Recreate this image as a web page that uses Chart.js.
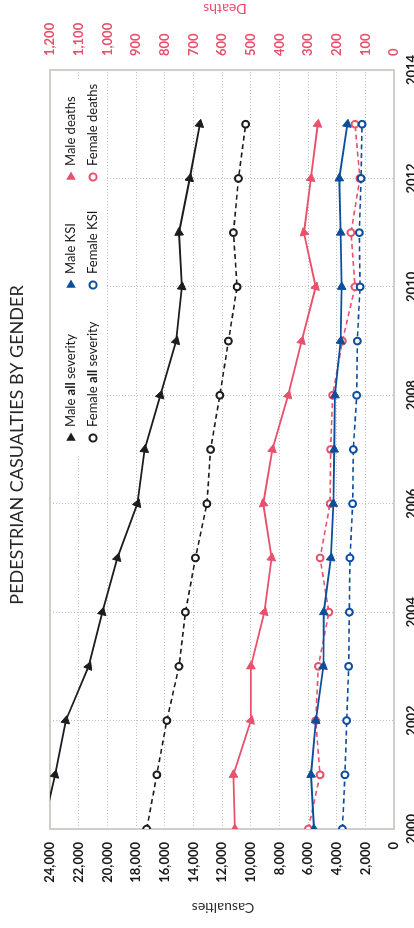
<!DOCTYPE html>
<html><head><meta charset="utf-8">
<script src="https://cdn.jsdelivr.net/npm/chart.js@4"></script>
<style>
html,body{margin:0;padding:0;background:#fff;overflow:hidden;width:414px;height:928px;}
#rot{position:absolute;left:0;top:0;width:928px;height:414px;overflow:hidden;transform-origin:0 0;transform:translate(0,928px) rotate(-90deg);background:#fff;}
</style></head><body>
<div id="rot"><canvas id="c" width="928" height="430"></canvas></div>
<script>
const years = [2000,2001,2002,2003,2004,2005,2006,2007,2008,2009,2010,2011,2012,2013];
const maleAllSeverity   = [24500,23650,22900,21300,20350,19300,17900,17400,16300,15200,14800,15000,14250,13550];
const femaleAllSeverity = [17250,16550,15850,15000,14550,13850,13050,12800,12150,11550,10950,11200,10850,10350];
const maleKSI   = [5580,5790,5450,4930,4900,4400,4230,4170,4120,3720,3650,3720,3820,3260];
const femaleKSI = [3600,3420,3300,3160,3120,3070,2880,2840,2600,2560,2370,2420,2300,2230];
const maleDeaths   = [555,560,499,499,452,427,456,424,369,322,273,314,290,266];
const femaleDeaths = [299,258,273,264,227,258,223,221,214,180,136,150,119,136];
const casualtyTicks = {min:0, max:24000, step:2000};
const deathTicks = {min:0, max:1200, step:100};
const yearTicks = {min:2000, max:2014, step:2};

const BLACK='#1c1c1c', BLUE='#0c4e9c', PINK='#e9506b';
const toXY = arr => arr.map((v,i)=>({x:years[i], y:v}));

function rot(ctx){
  const ch = ctx.chart;
  const ds = ch.data.datasets[ctx.datasetIndex];
  const xs = ch.scales.x, ys = ch.scales[ds.yAxisID];
  if(!xs || !ys || !ds) return 90;
  const d = ds.data, i = ctx.dataIndex;
  const a = i>0 ? i-1 : i, b = i>0 ? i : i+1;
  const dx = xs.getPixelForValue(d[b].x) - xs.getPixelForValue(d[a].x);
  const dy = ys.getPixelForValue(d[b].y) - ys.getPixelForValue(d[a].y);
  return 90 + Math.atan2(dy, dx)*180/Math.PI;
}

function series(label, data, color, axis, male){
  return {
    label, data: toXY(data), yAxisID: axis,
    borderColor: color, backgroundColor: male ? color : '#fff',
    borderWidth: male ? 1.8 : 1.6,
    borderDash: male ? [] : [5,3.5],
    pointStyle: male ? 'triangle' : 'circle',
    pointRadius: male ? 5 : 3.4,
    pointBorderWidth: male ? 1 : 2,
    pointBorderColor: color,
    pointBackgroundColor: male ? color : '#fff',
    pointRotation: male ? rot : 0,
    tension: 0
  };
}

const fmt = v => Number(v).toLocaleString('en-US');

const legendItems = [
  {parts:[['Male ',400],['all',700],[' severity',400]], color:BLACK, male:true, col:0, row:0},
  {parts:[['Female ',400],['all',700],[' severity',400]], color:BLACK, male:false, col:0, row:1},
  {parts:[['Male KSI',400]], color:BLUE, male:true, col:1, row:0},
  {parts:[['Female KSI',400]], color:BLUE, male:false, col:1, row:1},
  {parts:[['Male deaths',400]], color:PINK, male:true, col:2, row:0},
  {parts:[['Female deaths',400]], color:PINK, male:false, col:2, row:1}
];

const deco = {
  id:'deco',
  beforeDatasetsDraw(chart){
    const c = chart.ctx, a = chart.chartArea;
    c.save();
    c.fillStyle = '#fff';
    c.fillRect(473, a.top+1, 848-473, 105-a.top);
    c.strokeStyle = '#d2cdc9';
    c.lineWidth = 2;
    c.strokeRect(a.left, a.top, a.right-a.left, a.bottom-a.top);
    const colX = [490, 643, 751], rowY = [71, 93];
    legendItems.forEach(it=>{
      const x = colX[it.col], y = rowY[it.row];
      c.fillStyle = it.color; c.strokeStyle = it.color;
      if(it.male){
        const r = 5.5;
        c.beginPath();
        c.moveTo(x + r, y);
        c.lineTo(x - r/2, y - r*0.866);
        c.lineTo(x - r/2, y + r*0.866);
        c.closePath(); c.fill();
      } else {
        c.beginPath(); c.lineWidth = 2;
        c.fillStyle = '#fff';
        c.arc(x, y, 3.6, 0, Math.PI*2); c.fill(); c.stroke();
      }
      let tx = x + 11;
      c.textBaseline = 'middle'; c.textAlign = 'left';
      c.fillStyle = '#1a1a1a';
      it.parts.forEach(([t,w])=>{
        c.font = w + ' 13px Lato';
        c.fillText(t, tx, y);
        tx += c.measureText(t).width;
      });
    });
    c.restore();
  },
  afterDraw(chart){
    const c = chart.ctx;
    c.save();
    c.fillStyle = '#262626';
    c.font = '400 18px Lato';
    c.textAlign = 'center'; c.textBaseline = 'middle';
    c.fillText('PEDESTRIAN CASUALTIES BY GENDER', 483, 17);
    c.font = '400 14px Lato';
    c.save(); c.translate(20, 223); c.rotate(-Math.PI/2);
    c.fillStyle = '#2a2a2a'; c.fillText('Casualties', 0, 0); c.restore();
    c.save(); c.translate(919, 225); c.rotate(-Math.PI/2);
    c.fillStyle = PINK; c.fillText('Deaths', 0, 0); c.restore();
    c.restore();
  }
};

const gridCommon = {color:'#c2c2c2', lineWidth:1, drawTicks:false};

new Chart(document.getElementById('c'), {
  type:'line',
  data:{datasets:[
    series('Male all severity', maleAllSeverity, BLACK, 'y', true),
    series('Female all severity', femaleAllSeverity, BLACK, 'y', false),
    series('Male KSI', maleKSI, BLUE, 'y', true),
    series('Female KSI', femaleKSI, BLUE, 'y', false),
    series('Male deaths', maleDeaths, PINK, 'y2', true),
    series('Female deaths', femaleDeaths, PINK, 'y2', false)
  ]},
  options:{
    responsive:false, animation:false, devicePixelRatio:1,
    layout:{padding:{top:50,left:0,right:0,bottom:0}},
    plugins:{legend:{display:false}, title:{display:false}, tooltip:{enabled:false}},
    scales:{
      x:{type:'linear', position:'bottom', min:yearTicks.min, max:yearTicks.max,
         ticks:{stepSize:yearTicks.step, callback:v=>String(v), color:'#1a1a1a', font:{family:'Lato', size:13, weight:'bold'}, padding:10, maxRotation:0},
         grid:gridCommon, border:{display:false, dash:[1,2]},
         afterFit:s=>{s.height = 36;}},
      y:{type:'linear', position:'left', min:casualtyTicks.min, max:casualtyTicks.max,
         ticks:{stepSize:casualtyTicks.step, callback:fmt, color:'#1a1a1a', font:{family:'Lato', size:13, weight:'bold'}, padding:13},
         grid:gridCommon, border:{display:false, dash:[1,2]},
         afterFit:s=>{s.width = 99;}},
      y2:{type:'linear', position:'right', min:deathTicks.min, max:deathTicks.max,
         ticks:{stepSize:deathTicks.step, callback:fmt, color:PINK, font:{family:'Lato', size:13, weight:'bold'}, padding:14},
         grid:{display:false, drawTicks:false}, border:{display:false},
         afterFit:s=>{s.width = 70;}}
    }
  },
  plugins:[deco]
});
</script>
</body></html>
